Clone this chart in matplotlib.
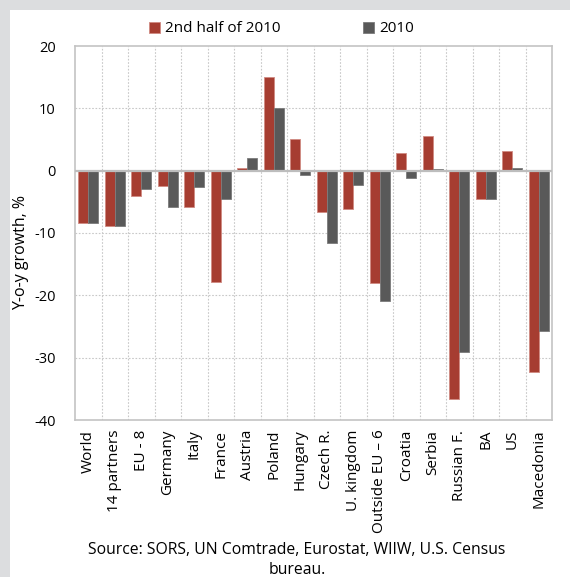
import matplotlib
matplotlib.use("Agg")
import matplotlib.pyplot as plt
import numpy as np
from matplotlib.patches import Rectangle

categories = ["World", "14 partners", "EU - 8", "Germany", "Italy", "France", "Austria",
              "Poland", "Hungary", "Czech R.", "U. kingdom", "Outside EU \u2013 6", "Croatia",
              "Serbia", "Russian F.", "BA", "US", "Macedonia"]
half2010 = [-8.4, -8.8, -4.1, -2.5, -5.9, -17.8, 0.5, 15.0, 5.0, -6.6, -6.1, -18.1,
            2.9, 5.6, -36.6, -4.6, 3.2, -32.3]
year2010 = [-8.4, -8.8, -2.9, -5.9, -2.7, -4.5, 2.0, 10.0, -0.7, -11.6, -2.3, -20.9,
            -1.1, 0.3, -29.1, -4.6, 0.4, -25.7]
series_names = ["2nd half of 2010", "2010"]
yticks = [20, 10, 0, -10, -20, -30, -40]
source = "Source: SORS, UN Comtrade, Eurostat, WIIW, U.S. Census\nbureau."

plt.rcParams['font.family'] = ['Open Sans', 'DejaVu Sans']

W, H = 570, 577
fig = plt.figure(figsize=(W/100, H/100), dpi=100)
fig.patch.set_facecolor("white")
# gray frame band at top and left
fig.add_artist(Rectangle((0, 1-10/H), 1, 10/H, transform=fig.transFigure,
                         facecolor="#dcdddf", edgecolor="none", zorder=0))
fig.add_artist(Rectangle((0, 0), 10/W, 1, transform=fig.transFigure,
                         facecolor="#dcdddf", edgecolor="none", zorder=0))

L, R, T, B = 75, 552, 46, 420
ax = fig.add_axes([L/W, 1-B/H, (R-L)/W, (B-T)/H])

red = "#a63d31"
gray = "#595959"
x = np.arange(len(categories))
w = 0.375
ax.bar(x - w/2, half2010, width=w, color=red, edgecolor="#d08a82", linewidth=0.6,
       label=series_names[0], zorder=3)
ax.bar(x + w/2, year2010, width=w, color=gray, edgecolor="#7a7a7a", linewidth=0.6,
       label=series_names[1], zorder=3)

ax.set_xlim(-0.5, len(categories) - 0.5)
ax.set_ylim(-40, 20)
ax.set_yticks(yticks)
ax.set_yticklabels([str(v) for v in yticks], fontsize=10.5)
ax.set_xticks(x)
ax.set_xticklabels(categories, rotation=90, fontsize=11, va="top")
ax.tick_params(length=0, pad=7)
ax.tick_params(axis="y", pad=14)

for v in [10, -10, -20, -30]:
    ax.axhline(v, color="#c8c8c8", linestyle=(0, (1.5, 1.5)), linewidth=0.8, zorder=1)
for b in np.arange(0.5, len(categories) - 0.5, 1):
    ax.axvline(b, color="#c8c8c8", linestyle=(0, (1.5, 1.5)), linewidth=0.8, zorder=1)
ax.axhline(0, color="#bdbdbd", linewidth=1.6, zorder=4)

for s in ax.spines.values():
    s.set_color("#c4c4c4")
    s.set_linewidth(1.2)

ax.set_ylabel("Y-o-y growth, %", fontsize=11.5)
ax.yaxis.set_label_coords((29 - L) / (R - L), (B - 252) / (B - T))

leg = fig.legend(loc="center left", bbox_to_anchor=(149/W, 1-29/H), ncol=2, frameon=False,
                 fontsize=11, handlelength=0.75, handleheight=0.75, handletextpad=0.3,
                 columnspacing=5.4, borderpad=0, borderaxespad=0)

fig.text(297/W, 1-560/H, source, ha="center", va="center", fontsize=11.3, linespacing=1.25)

fig.savefig("out.png", dpi=100)
